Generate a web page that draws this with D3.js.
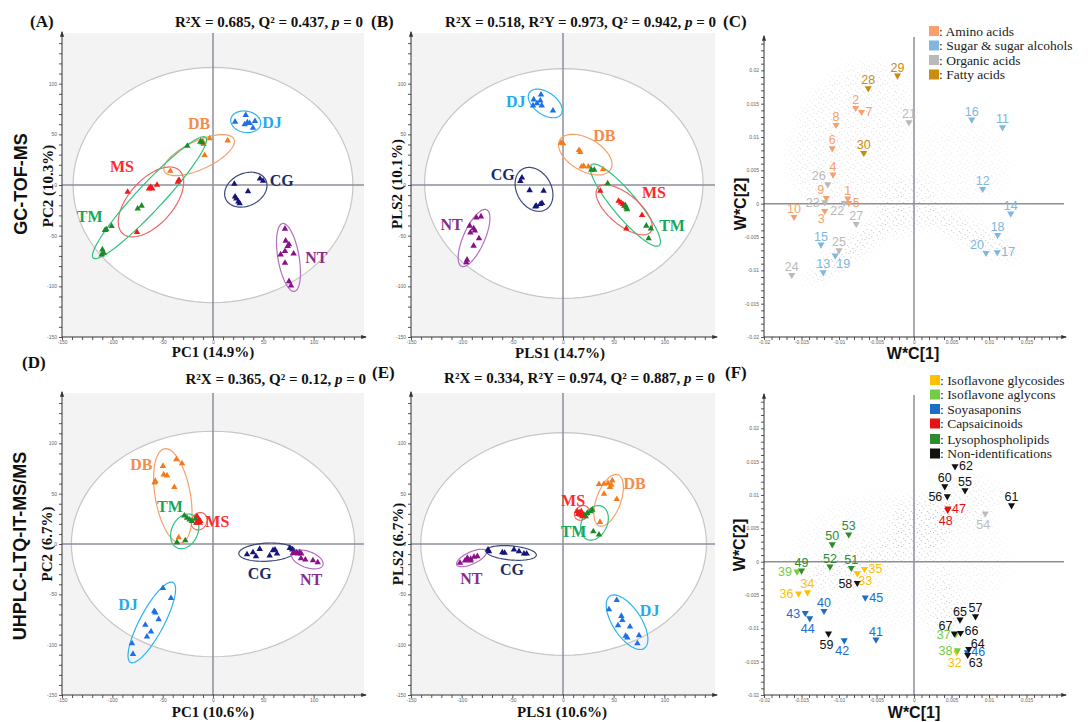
<!DOCTYPE html>
<html>
<head>
<meta charset="utf-8">
<script src="https://cdn.jsdelivr.net/npm/d3@7"></script>
<style>
body { margin: 0; background: #fff; }
.serif { font-family: "Liberation Serif", "DejaVu Serif", serif; font-weight: bold; }
.sans { font-family: "Liberation Sans", Arial, sans-serif; font-weight: bold; }
.tick text { font-family: "Liberation Sans", Arial, sans-serif; font-size: 5px; fill: #666; }
.tick line { stroke: #555; }
.num { font-family: "Liberation Sans", Arial, sans-serif; }
</style>
</head>
<body>
<svg id="fig" width="1088" height="722"></svg>
<script>
// ---- data ----
const groups = ["DJ", "DB", "MS", "TM", "CG", "NT"];

// score points: [group, x, y]
const scoreA = [
    ["DJ",21.9,62.4],["DJ",32.5,69],["DJ",34.1,61.7],["DJ",31.5,59.7],["DJ",36.4,61],["DJ",41.7,63],["DJ",39.7,56.4],
    ["DB",-42.4,13.9],["DB",-12.6,42.6],["DB",-9.3,40.3],["DB",-8.3,29.4],["DB",-3.3,45.9],["DB",-9.9,42.6],["DB",14.6,43.9],
    ["TM",-25.5,38.6],["TM",-12.3,42.9],["TM",-10.6,41.9],["TM",-74.8,-23.4],["TM",-70.9,-20.5],["TM",-106,-43.9],["TM",-107.3,-44.6],["TM",-100.7,-40.6],["TM",-109.9,-63.7],["TM",-110.6,-68.6],["TM",-108.6,-67],
    ["MS",-84.8,-6.9],["MS",-63.6,-3.6],["MS",-61.9,-2],["MS",-60.3,-3.6],["MS",-55.6,0],["MS",-33.8,5],["MS",-75.5,-46.5],["MS",-35,3],
    ["CG",21.2,1],["CG",21.9,-11.6],["CG",23.2,-13.5],["CG",25.2,-16.5],["CG",26.5,-18.2],["CG",34.8,-6.3],["CG",46.7,6.3],["CG",49.7,4],
    ["NT",71.5,-43.2],["NT",72.2,-55.1],["NT",75.5,-58.7],["NT",74.2,-60.4],["NT",80.1,-67.7],["NT",67.2,-68.6],["NT",71.5,-65.3],["NT",71.5,-76.9],["NT",75.5,-95],["NT",77.5,-99.3]
];
const scoreB = [
    ["DJ",-21.7,89.2],["DJ",-28.9,84.3],["DJ",-22.4,83.3],["DJ",-29.6,78.4],["DJ",-21,78.4],["DJ",-9.9,73.4],["DJ",-25.7,80.6],
    ["DB",-2,41.6],["DB",0,41],["DB",15.8,34.4],["DB",17.1,32.5],["DB",18.4,18],["DB",25,18],["DB",20.4,18.7],["DB",39.5,15.4],
    ["MS",36.8,-5.9],["MS",54.9,-15.7],["MS",57.2,-17.4],["MS",59.2,-19],["MS",60.5,-20.7],["MS",78,-29.8],["MS",62.5,-43],
    ["TM",30.9,14.8],["TM",44.1,1.6],["TM",61.5,-20],["TM",62.5,-22.3],["TM",63.2,-24],["TM",82.2,-40.3],["TM",86.8,-43],["TM",84.5,-52.8],["TM",28,15],
    ["CG",-40.5,7.2],["CG",-42.1,3.9],["CG",-32.9,-5.2],["CG",-19.1,-5.9],["CG",-27.3,-21.3],["CG",-22.4,-19],["CG",-20.7,-18],["CG",-26.3,-20.7],
    ["NT",-80.9,-31.1],["NT",-85.5,-32.1],["NT",-92.1,-40.3],["NT",-88.2,-42.9],["NT",-91.4,-46.9],["NT",-82.9,-52.8],["NT",-88.2,-60],["NT",-94.7,-73.8],["NT",-95.4,-76.4],["NT",-87,-45]
];
const scoreD = [
    ["DB",-57.3,62.5],["DB",-49.7,77.4],["DB",-49,69],["DB",-45.7,68],["DB",-36.4,84],["DB",-30.8,80],["DB",-38.4,56.5],["DB",-34.1,6.6],["DB",-58,61],
    ["TM",-28.5,28.2],["TM",-25.8,25.9],["TM",-23.2,24.2],["TM",-20.9,22.6],["TM",-15.9,20.9],["TM",-27.5,3.6],["TM",-35.8,1.7],["TM",-17.6,24.9],
    ["MS",-15.9,27.6],["MS",-14.2,24.2],["MS",-12.6,22.6],["MS",-13.2,20.9],["MS",-16.6,20.9],
    ["CG",33.8,-10.3],["CG",39.7,-8.3],["CG",46.4,-5],["CG",42.7,-12.3],["CG",56.3,-11.6],["CG",59.6,-6.3],["CG",61.6,-5.6],["CG",63.6,-9.6],["CG",76.2,-4],["CG",78.8,-5.6],
    ["NT",79.5,-9],["NT",82.8,-8.3],["NT",86.1,-8.3],["NT",87.7,-9.6],["NT",87.4,-14.3],["NT",91.7,-15.6],["NT",99.3,-16.3],["NT",104,-18.3],["NT",84.1,-9.6],
    ["DJ",-49.7,-43.9],["DJ",-41.7,-53.8],["DJ",-58.3,-66.8],["DJ",-57.3,-68.1],["DJ",-54,-74.8],["DJ",-67.2,-80.4],["DJ",-61.6,-87],["DJ",-65.6,-92],["DJ",-80.5,-98.7],["DJ",-79.5,-109.3]
];
const scoreE = [
    ["DB",35.5,59.4],["DB",40.5,59.7],["DB",44.4,60.4],["DB",47.7,58.7],["DB",46.4,56.4],["DB",48.7,63],["DB",40.5,49.8],["DB",53,44.5],["DB",36.5,21.8],
    ["TM",20.7,29],["TM",24,30.7],["TM",27.3,32.3],["TM",28.9,34],["TM",22.4,27.4],["TM",29.9,12.5],["TM",35.5,9.2],
    ["MS",14.1,32.3],["MS",15.8,30.7],["MS",17.4,29],["MS",16.8,31.4],["MS",14.8,29.7],["MS",19.1,27.4],["MS",18.1,32.3],
    ["CG",-74,-5.6],["CG",-73,-7.3],["CG",-59.9,-8.3],["CG",-57.6,-8.9],["CG",-48.4,-5.6],["CG",-43.4,-7.3],["CG",-38.5,-9.6],["CG",-35.9,-9.6],
    ["NT",-101.6,-18.8],["NT",-96.7,-16.5],["NT",-93.8,-15.5],["NT",-91.1,-14.9],["NT",-87.8,-12.9],["NT",-84.5,-12.2],["NT",-91.1,-16.5],["NT",-94.4,-13.9],
    ["DJ",53,-55.8],["DJ",45.4,-65],["DJ",57.6,-71.6],["DJ",58.6,-75.6],["DJ",54.3,-80.9],["DJ",66.1,-82.2],["DJ",61.8,-91.4],["DJ",63.5,-93.1],["DJ",75,-90.8],["DJ",73.4,-98.7]
];

// confidence ellipses: [group, cx, cy, semi-axis a, semi-axis b, angle deg]
const ellipseA = [["T2",0,0,139,116,0],["DJ",32.5,62.4,15,10.5,-10],["DB",-13.8,29.5,38,14,24.5],["MS",-61.6,-16.7,42,22,48],
    ["TM",-63.1,-12.5,81.6,13,46.8],["CG",32.6,-4.6,22,16,25],["NT",75,-71.5,34,10.5,100]];
const ellipseB = [["T2",0.8,1.5,137.4,113.3,0],["DJ",-17.5,80.5,19,11,-35],["DB",22,30,29,16,-30],["TM",61.5,-19.8,52,12,-50],
    ["MS",60.4,-24.5,34,15,-40],["CG",-28.6,-4.3,23,17,-60],["NT",-87.8,-52.3,30.5,10.5,66]];
const ellipseD = [["T2",0,0,140.7,112,0],["DB",-39.9,47.8,47.5,17.5,100],["TM",-28.1,12.6,18,13,65],["MS",-13.7,22.6,9,7.5,60],
    ["CG",53.6,-8.1,28,9,3],["NT",93.7,-15.3,16.5,8,-20],["DJ",-60.8,-77.9,45,12,62]];
const ellipseE = [["T2",0.6,0,141,110.6,0],["DB",45,43.4,27,12,70],["MS",18.6,30.9,8,6.5,45],["TM",31.1,21,18,12.5,65],
    ["CG",-51.2,-8.9,25,7,-5],["NT",-90.3,-13.9,16,6,25],["DJ",63.2,-77.7,31,14,-57]];

// group name labels: [group, x, y]
const labelA = [["DJ",58.6,61.7],["DB",-13.9,61],["MS",-90.4,17.8],["TM",-122.5,-31.4],["CG",68.2,4],["NT",102.6,-71.3]];
const labelB = [["DJ",-46.7,82.6],["DB",40.8,48.9],["CG",-59.5,10.5],["MS",89.8,-7.5],["TM",107.6,-40.3],["NT",-109.9,-39.3]];
const labelD = [["DB",-71.2,79],["TM",-42.7,37.5],["MS",4.3,22.6],["CG",46.4,-28.9],["NT",97.4,-35.5],["DJ",-84.4,-60.5]];
const labelE = [["DB",70.7,60.4],["MS",9.9,43.2],["TM",10.4,12.5],["CG",-50.3,-25.4],["NT",-90.5,-34],["DJ",85.5,-65.7]];

// loadings: [id, class, W*C[1], W*C[2], label side]
const loadC = [
    [1,"amino",-0.00884,0.00075,"t"],[2,"amino",-0.00778,0.01435,"t"],[3,"amino",-0.0119,-0.0011,"bl"],[4,"amino",-0.0108,0.00435,"t"],
    [5,"amino",-0.0087,0.0001,"r"],[6,"amino",-0.0109,0.0083,"t"],[7,"amino",-0.007,0.01375,"r"],[8,"amino",-0.0104,0.0118,"t"],
    [9,"amino",-0.0117,0.00085,"tl"],[10,"amino",-0.016,-0.002,"t"],
    [11,"sugar",0.0118,0.01145,"t"],[12,"sugar",0.00916,0.0022,"t"],[13,"sugar",-0.0121,-0.0103,"t"],[14,"sugar",0.0129,-0.0015,"t"],
    [15,"sugar",-0.0124,-0.00615,"t"],[16,"sugar",0.0077,0.0126,"t"],[17,"sugar",0.0111,-0.0073,"r"],[18,"sugar",0.01115,-0.0047,"t"],
    [19,"sugar",-0.0105,-0.0078,"br"],[20,"sugar",0.0096,-0.0074,"tl"],
    [21,"organic",-0.00067,0.0122,"t"],[22,"organic",-0.0093,0.0001,"bl"],[23,"organic",-0.0119,0.0002,"l"],[24,"organic",-0.0163,-0.0107,"t"],
    [25,"organic",-0.01,-0.007,"t"],[26,"organic",-0.0115,0.0029,"tl"],[27,"organic",-0.0077,-0.00305,"t"],
    [28,"fatty",-0.0061,0.0173,"t"],[29,"fatty",-0.0022,0.0192,"t"],[30,"fatty",-0.0067,0.0076,"t"]
];
const loadF = [
    [32,"glyco",0.00569,-0.0136,"b"],[33,"glyco",-0.00756,-0.00174,"br"],[34,"glyco",-0.0142,-0.0046,"t"],[35,"glyco",-0.0066,-0.0011,"r"],
    [36,"glyco",-0.0154,-0.0048,"l"],
    [37,"aglycon",0.00556,-0.0109,"l"],[38,"aglycon",0.00578,-0.0133,"l"],[39,"aglycon",-0.0156,-0.0015,"l"],
    [40,"saponin",-0.012,-0.0074,"t"],[41,"saponin",-0.00507,-0.0117,"t"],[42,"saponin",-0.0093,-0.0118,"b"],[43,"saponin",-0.0145,-0.0077,"l"],
    [44,"saponin",-0.0139,-0.0085,"b"],[45,"saponin",-0.0065,-0.0054,"r"],[46,"saponin",0.0071,-0.0136,"r"],
    [47,"capsa",0.00453,0.00796,"r"],[48,"capsa",0.00449,0.00775,"b"],
    [49,"lyso",-0.015,-0.00135,"t"],[50,"lyso",-0.0109,0.0026,"t"],[51,"lyso",-0.00836,-0.00095,"t"],[52,"lyso",-0.0112,-0.00075,"t"],
    [53,"lyso",-0.0087,0.00408,"t"],
    [54,"other",0.0095,0.0072,"b"],
    [55,"nonid",0.0068,0.0107,"t"],[56,"nonid",0.00444,0.0098,"l"],[57,"nonid",0.0082,-0.0082,"t"],[58,"nonid",-0.00756,-0.0032,"l"],
    [59,"nonid",-0.0114,-0.0108,"b"],[60,"nonid",0.0041,0.0113,"t"],[61,"nonid",0.013,0.00846,"t"],[62,"nonid",0.00547,0.0143,"r"],
    [63,"nonid",0.00716,-0.014,"br"],[64,"nonid",0.0073,-0.0131,"tr"],[65,"nonid",0.00613,-0.0087,"t"],[66,"nonid",0.0062,-0.0107,"ru"],
    [67,"nonid",0.00538,-0.0108,"tl"]
];

// background variable cloud regions: [x, y, rx, ry, rotation, density]
const cloudC = [
    [-0.0076,-0.0062,0.0084,0.0016,-37,0.95],[0.0072,-0.0043,0.0076,0.0016,26,0.95],[-0.0085,0.0103,0.0073,0.012,30,0.5],
    [0.0061,0.0058,0.0067,0.0068,0,0.3],[-0.0012,-0.0002,0.004,0.0045,0,0.7]
];
const cloudF = [
    [-0.0065,0.0003,0.008,0.0023,-20,0.75],[0.0008,0.005,0.004,0.0045,0,0.95],[0.0041,-0.0073,0.002,0.0068,-10,0.65],
    [0.0068,0.0093,0.0047,0.0037,0,0.55],[-0.0019,0.0003,0.0147,0.0105,0,0.3]
];

const legendC = [["amino","Amino acids"],["sugar","Sugar & sugar alcohols"],["organic","Organic acids"],["fatty","Fatty acids"]];
const legendF = [["glyco","Isoflavone glycosides"],["aglycon","Isoflavone aglycons"],["saponin","Soyasaponins"],
    ["capsa","Capsaicinoids"],["lyso","Lysophospholipids"],["nonid","Non-identifications"]];

const scoreDomain = [-150, 150];
const loadXDomain = [-0.02, 0.02];
const loadYDomain = [-0.02, 0.025];

// ---- colours ----
const markerColor = {DJ:"#1f6fe8", DB:"#f57a1c", MS:"#f21a1a", TM:"#1d8a2a", CG:"#15157a", NT:"#8a0f8a"};
const ellipseColor = {T2:"#c6c6c6", DJ:"#2bb5f0", DB:"#f5a06a", MS:"#f06666", TM:"#2ec27e", CG:"#3c4a7c", NT:"#b56cc4"};
const labelColor = {DJ:"#1eaaf0", DB:"#f58b4c", MS:"#ff2a2a", TM:"#15a85a", CG:"#1b2a66", NT:"#8b2c8b"};
const classColor = {amino:"#f7a06e", sugar:"#80b6e0", organic:"#b9b9b9", fatty:"#c98c0c",
    glyco:"#ffc000", aglycon:"#74cc44", saponin:"#1a6fc4", capsa:"#e81010", lyso:"#2e8b2e", nonid:"#111111", other:"#bdbdbd"};

const svg = d3.select("#fig");
const defs = svg.append("defs");

defs.append("marker").attr("id", "arrow")
    .attr("viewBox", "0 0 10 10").attr("refX", 8).attr("refY", 5)
    .attr("markerWidth", 6).attr("markerHeight", 6).attr("orient", "auto")
    .append("path").attr("d", "M0,1.5 L10,5 L0,8.5 Z").attr("fill", "#333");

// speckle texture for the variable cloud
let pat = defs.append("pattern").attr("id", "speckle").attr("patternUnits", "userSpaceOnUse")
    .attr("width", 16).attr("height", 14);
[[1,1.5],[5.5,0.6],[9.8,2.4],[14,1],[3,5],[7.6,6.2],[12,4.8],[15.2,7.4],[0.8,9],[5,10.6],[9.4,8.8],[13.2,11.6],[2.6,13.2],[7.8,12.8]].forEach(p => {
    pat.append("circle").attr("cx", p[0]).attr("cy", p[1]).attr("r", 0.5).attr("fill", "#9a9a9a");
});
defs.append("filter").attr("id", "soft").attr("x", "-50%").attr("y", "-50%").attr("width", "200%").attr("height", "200%")
    .append("feGaussianBlur").attr("stdDeviation", 7);

function drawFrame(vis, xTicks, yTicks, fmt) {
    let [x0, x1] = vis.x.range(), [y0, y1] = vis.y.range();

    // zero lines
    vis.g.append("line").attr("x1", vis.x(0)).attr("x2", vis.x(0)).attr("y1", y0).attr("y2", y1)
        .attr("stroke", "#8e8e9c").attr("stroke-width", 1.5);
    vis.g.append("line").attr("x1", x0).attr("x2", x1).attr("y1", vis.y(0)).attr("y2", vis.y(0))
        .attr("stroke", "#8e8e9c").attr("stroke-width", 1.5);

    let ya = vis.g.append("g").attr("transform", `translate(${x0},0)`)
        .call(d3.axisLeft(vis.y).tickValues(yTicks).tickSize(3).tickPadding(2).tickFormat(fmt.y));
    let xa = vis.g.append("g").attr("transform", `translate(0,${y0})`)
        .call(d3.axisBottom(vis.x).tickValues(xTicks).tickSize(3).tickPadding(0).tickFormat(fmt.x));
    ya.select(".domain").remove();
    xa.select(".domain").remove();

    vis.g.append("line").attr("x1", x0).attr("x2", x0).attr("y1", y0).attr("y2", y1 - 1)
        .attr("stroke", "#333").attr("marker-end", "url(#arrow)");
    vis.g.append("line").attr("x1", x0).attr("x2", x1 + 2).attr("y1", y0).attr("y2", y0)
        .attr("stroke", "#333").attr("marker-end", "url(#arrow)");
}

class ScorePlot {
    constructor(cfg) {
        Object.assign(this, cfg);
        this.initVis();
    }

    initVis() {
        let vis = this;
        vis.x = d3.scaleLinear().domain(scoreDomain).range(vis.xRange);
        vis.y = d3.scaleLinear().domain(scoreDomain).range(vis.yRange);
        vis.g = svg.append("g");

        vis.g.append("rect")
            .attr("x", vis.x(-150)).attr("y", vis.y(150))
            .attr("width", vis.x(150) - vis.x(-150)).attr("height", vis.y(-150) - vis.y(150))
            .attr("fill", "#f3f3f3");

        let t2 = vis.ellipses.filter(e => e[0] === "T2");
        vis.g.selectAll(".t2").data(t2).enter().append("path").attr("class", "t2")
            .attr("d", e => vis.ellipsePath(e))
            .attr("fill", "#fff").attr("stroke", ellipseColor.T2).attr("stroke-width", 1.2);

        let ticks = d3.range(-150, 150, 10);
        let fmt = d => (d % 50 === 0) ? d : "";
        drawFrame(vis, ticks, ticks, {x: fmt, y: fmt});

        vis.updateVis();
    }

    ellipsePath(e) {
        let vis = this;
        let th = e[5] * Math.PI / 180;
        let pts = d3.range(0, 96).map(i => {
            let t = i / 96 * 2 * Math.PI;
            let dx = e[3] * Math.cos(t), dy = e[4] * Math.sin(t);
            return [vis.x(e[1] + dx * Math.cos(th) - dy * Math.sin(th)),
                    vis.y(e[2] + dx * Math.sin(th) + dy * Math.cos(th))];
        });
        return d3.line()(pts) + "Z";
    }

    updateVis() {
        let vis = this;

        vis.g.selectAll(".grp-ell")
            .data(vis.ellipses.filter(e => e[0] !== "T2"))
            .enter().append("path").attr("class", "grp-ell")
            .attr("d", e => vis.ellipsePath(e))
            .attr("fill", "none")
            .attr("stroke", e => ellipseColor[e[0]])
            .attr("stroke-width", 1.2);

        vis.g.selectAll(".pt")
            .data(vis.points)
            .enter().append("path").attr("class", "pt")
            .attr("d", d3.symbol(d3.symbolTriangle, 18))
            .attr("transform", d => `translate(${vis.x(d[1])},${vis.y(d[2])})`)
            .attr("fill", d => markerColor[d[0]]);

        vis.g.selectAll(".grp-lab")
            .data(vis.labels)
            .enter().append("text").attr("class", "grp-lab serif")
            .attr("x", d => vis.x(d[1]))
            .attr("y", d => vis.y(d[2]))
            .attr("text-anchor", "middle")
            .attr("dominant-baseline", "central")
            .attr("font-size", 16)
            .attr("fill", d => labelColor[d[0]])
            .text(d => d[0]);
    }
}

const labelOffset = {
    t:  {dx: 0,  dy: -4, anchor: "middle"},
    b:  {dx: -2, dy: 15, anchor: "middle"},
    l:  {dx: -5, dy: 4.5, anchor: "end"},
    r:  {dx: 4,  dy: 4,  anchor: "start"},
    ru: {dx: 4,  dy: 2,  anchor: "start"},
    tl: {dx: -2, dy: -4, anchor: "end"},
    tr: {dx: 2,  dy: -1, anchor: "start"},
    bl: {dx: 0,  dy: 12, anchor: "end"},
    br: {dx: 1,  dy: 12, anchor: "start"}
};

class LoadingPlot {
    constructor(cfg) {
        Object.assign(this, cfg);
        this.initVis();
    }

    initVis() {
        let vis = this;
        vis.x = d3.scaleLinear().domain(loadXDomain).range(vis.xRange);
        vis.y = d3.scaleLinear().domain(loadYDomain).range(vis.yRange);
        vis.g = svg.append("g");

        // variable cloud (all detected features), soft speckle
        let mask = defs.append("mask").attr("id", "mask" + vis.id)
            .attr("maskUnits", "userSpaceOnUse")
            .attr("x", 0).attr("y", 0).attr("width", 1088).attr("height", 722);
        mask.append("g").attr("filter", "url(#soft)")
            .selectAll("ellipse").data(vis.cloud).enter().append("ellipse")
            .attr("cx", d => vis.x(d[0])).attr("cy", d => vis.y(d[1]))
            .attr("rx", d => vis.x(d[2]) - vis.x(0)).attr("ry", d => vis.y(0) - vis.y(d[3]))
            .attr("transform", d => `rotate(${d[4]},${vis.x(d[0])},${vis.y(d[1])})`)
            .attr("fill", "#fff").attr("fill-opacity", d => d[5]);
        let [x0, x1] = vis.x.range(), [y0, y1] = vis.y.range();
        vis.g.append("rect").attr("x", x0).attr("y", y1).attr("width", x1 - x0).attr("height", y0 - y1)
            .attr("fill", "url(#speckle)").attr("mask", `url(#mask${vis.id})`);

        let xt = d3.range(-20, 20, 1).map(d => d / 1000);
        let yt = d3.range(-20, 25, 1).map(d => d / 1000);
        let fmt = d => {
            let m = Math.round(d * 1000);
            return (m % 5 === 0 && m < 25) ? String(m / 1000) : "";
        };
        drawFrame(vis, xt, yt, {x: d => Math.round(d * 1000) === 20 ? "" : fmt(d), y: fmt});

        // legend
        let lg = vis.g.selectAll(".leg").data(vis.legend).enter().append("g").attr("class", "leg")
            .attr("transform", (d, i) => `translate(${vis.legendX},${vis.legendY[i]})`);
        lg.append("rect").attr("x", 0).attr("y", -5).attr("width", 10).attr("height", 10)
            .attr("fill", d => classColor[d[0]]);
        lg.append("text").attr("x", 10).attr("y", 4.5)
            .style("font-family", '"Liberation Serif", serif').attr("font-size", 13.5).attr("fill", "#222")
            .text(d => ": " + d[1]);

        vis.updateVis();
    }

    updateVis() {
        let vis = this;

        vis.g.selectAll(".ld")
            .data(vis.points)
            .enter().append("path").attr("class", "ld")
            .attr("d", d3.symbol(d3.symbolTriangle, 22))
            .attr("transform", d => `translate(${vis.x(d[2])},${vis.y(d[3])}) rotate(180)`)
            .attr("fill", d => classColor[d[1]]);

        vis.g.selectAll(".ld-lab")
            .data(vis.points)
            .enter().append("text").attr("class", "ld-lab num")
            .attr("x", d => vis.x(d[2]) + labelOffset[d[4]].dx)
            .attr("y", d => vis.y(d[3]) + labelOffset[d[4]].dy)
            .attr("text-anchor", d => labelOffset[d[4]].anchor)
            .attr("font-size", vis.labelSize)
            .attr("fill", d => classColor[d[1]])
            .text(d => d[0]);
    }
}

new ScorePlot({id: "A", xRange: [62, 364], yRange: [337, 33], points: scoreA, ellipses: ellipseA, labels: labelA});
new ScorePlot({id: "B", xRange: [411, 715], yRange: [337, 33], points: scoreB, ellipses: ellipseB, labels: labelB});
new ScorePlot({id: "D", xRange: [62, 364], yRange: [695, 393], points: scoreD, ellipses: ellipseD, labels: labelD});
new ScorePlot({id: "E", xRange: [411, 715], yRange: [695, 393], points: scoreE, ellipses: ellipseE, labels: labelE});
new LoadingPlot({id: "C", xRange: [764, 1064], yRange: [337, 37], points: loadC, cloud: cloudC,
    legend: legendC, legendX: 929, legendY: [31, 45.5, 60, 74.5], labelSize: 12.5});
new LoadingPlot({id: "F", xRange: [764, 1064], yRange: [695, 395], points: loadF, cloud: cloudF,
    legend: legendF, legendX: 930, legendY: [380, 394.5, 409, 423.5, 439, 453.5], labelSize: 12.5});

// ---- titles and axis names ----
function addText(x, y, txt, cls, size, opts = {}) {
    let t = svg.append("text").attr("class", cls).attr("x", x).attr("y", y)
        .attr("font-size", size).attr("fill", "#111")
        .attr("text-anchor", opts.anchor || "start");
    if (opts.rotate) t.attr("transform", `rotate(-90,${x},${y})`);
    // parts between | are italic
    txt.split("|").forEach((s, i) => {
        t.append("tspan").attr("font-style", i % 2 ? "italic" : "normal").text(s);
    });
    return t;
}

addText(30, 27, "(A)", "serif", 17);
addText(371, 27, "(B)", "serif", 17);
addText(723, 27, "(C)", "serif", 17);
addText(22, 368, "(D)", "serif", 17);
addText(372, 378, "(E)", "serif", 17);
addText(725, 378, "(F)", "serif", 17);

addText(363, 27, "R²X = 0.685, Q² = 0.437, |p| = 0", "serif", 15, {anchor: "end"});
addText(716, 27, "R²X = 0.518, R²Y = 0.973, Q² = 0.942, |p| = 0", "serif", 15, {anchor: "end"});
addText(366, 384, "R²X = 0.365, Q² = 0.12, |p| = 0", "serif", 15, {anchor: "end"});
addText(715, 383, "R²X = 0.334, R²Y = 0.974, Q² = 0.887, |p| = 0", "serif", 15, {anchor: "end"});

addText(213, 357, "PC1 (14.9%)", "serif", 15, {anchor: "middle"});
addText(560, 358, "PLS1 (14.7%)", "serif", 15, {anchor: "middle"});
addText(913, 359, "W*C[1]", "sans", 16, {anchor: "middle"});
addText(213, 717, "PC1 (10.6%)", "serif", 15, {anchor: "middle"});
addText(562, 717, "PLS1 (10.6%)", "serif", 15, {anchor: "middle"});
addText(914, 718, "W*C[1]", "sans", 16, {anchor: "middle"});

addText(53, 186, "PC2 (10.3%)", "serif", 15, {anchor: "middle", rotate: true});
addText(402, 184, "PLS2 (10.1%)", "serif", 15, {anchor: "middle", rotate: true});
addText(746, 204, "W*C[2]", "sans", 16, {anchor: "middle", rotate: true});
addText(52, 544, "PC2 (6.7%)", "serif", 15, {anchor: "middle", rotate: true});
addText(403, 544, "PLS2 (6.7%)", "serif", 15, {anchor: "middle", rotate: true});
addText(745, 545, "W*C[2]", "sans", 16, {anchor: "middle", rotate: true});

addText(27, 184, "GC-TOF-MS", "sans", 18, {anchor: "middle", rotate: true});
addText(26, 546, "UHPLC-LTQ-IT-MS/MS", "sans", 18, {anchor: "middle", rotate: true});
</script>
</body>
</html>
